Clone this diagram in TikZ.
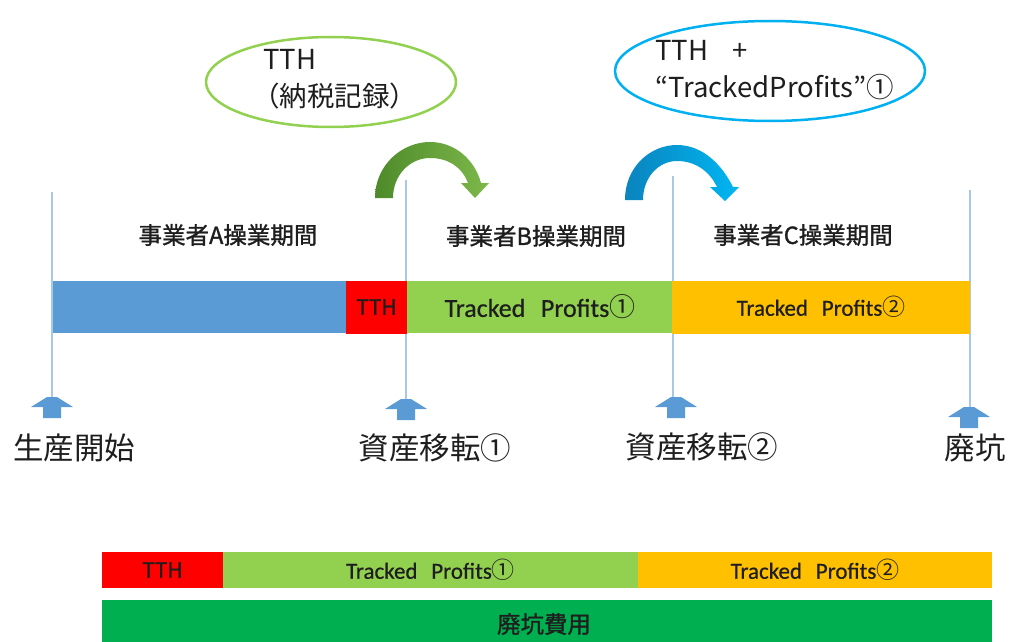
\documentclass[tikz,border=0pt]{standalone}
\usepackage{fontspec}
\setmainfont{Noto Sans CJK JP}
\newfontfamily\cjk{Noto Sans CJK JP}
\newfontfamily\cjkb[FakeBold=1.2]{Noto Sans CJK JP}
\newfontfamily\calfont[FakeBold=0.6]{Carlito}
\usetikzlibrary{shapes.geometric}
\definecolor{barblue}{HTML}{5B9BD5}
\definecolor{barred}{HTML}{FF0000}
\definecolor{bargreen}{HTML}{92D050}
\definecolor{barorange}{HTML}{FFC000}
\definecolor{bardkgreen}{HTML}{00B050}
\definecolor{ellgreen}{HTML}{92D050}
\definecolor{ellblue}{HTML}{00B0F0}
\definecolor{lineblue}{HTML}{A9C8E8}
\definecolor{arrowblue}{HTML}{5B9BD5}
\definecolor{txt}{HTML}{1E1E1E}
\definecolor{gA}{HTML}{4E8A2A}
\definecolor{gB}{HTML}{7DB84A}
\definecolor{bA}{HTML}{0A84BE}
\definecolor{bB}{HTML}{00B6F2}
\begin{document}
\begin{tikzpicture}[x=1pt,y=-1pt,
  bar/.style={draw=none, inner sep=0pt, outer sep=0pt, text=txt},
  vline/.style={draw=lineblue, line width=1.6pt},
  lbl/.style={text=txt, inner sep=0pt, font=\fontsize{30.5}{33}\selectfont},
  period/.style={text=txt, inner sep=0pt, font=\cjkb\fontsize{23.5}{26}\selectfont},
  ellt/.style={text=txt, align=left, inner sep=0pt, font=\fontsize{27.5}{37}\selectfont},
  barbig/.style={font=\calfont\fontsize{26}{28}\selectfont},
  barsmall/.style={font=\calfont\fontsize{23}{26}\selectfont},
  tthfont/.style={font=\cjkb\fontsize{21}{24}\selectfont},
  uparr/.pic={\fill[arrowblue] (-5,0) -- (5,0) -- (21,10) -- (9,10) -- (9,21) -- (-9,21) -- (-9,10) -- (-21,10) -- cycle;}
]
\useasboundingbox (0,0) rectangle (1009,642);

% ellipses
\node[draw=ellgreen, line width=2.5pt, ellipse, minimum width=250pt, minimum height=90pt] (e1) at (331,82) {};
\node[ellt, anchor=west] (e1t) at (263,79) {TTH\\\hspace*{-0.4em}（納税記録）};
\node[draw=ellblue, line width=2.5pt, ellipse, minimum width=310pt, minimum height=100pt] (e2) at (770,71) {};
\node[ellt, anchor=west] (e2t) at (655,70) {TTH\hspace{0.9em}+\\“TrackedProfits”①};

% curved arrows
\shade[left color=gA, right color=gB] (375,198) .. controls (375,165) and (402,142) .. (430,142) .. controls (455,142) and (475,160) .. (481,183) -- (489,183) -- (475,198) -- (461,183) -- (468,183) .. controls (462,167) and (448,158) .. (430,158) .. controls (410,158) and (393,175) .. (393,198) -- cycle;
\shade[left color=bA, right color=bB] (625,200) .. controls (625,167) and (650,145) .. (677,145) .. controls (703,145) and (722,165) .. (733,187) -- (739,187) -- (725,201) -- (710,187) -- (717,187) .. controls (710,172) and (696,161) .. (677,161) .. controls (658,161) and (643,178) .. (643,200) -- cycle;

% vertical lines
\coordinate (l1t) at (52,192);  \coordinate (l1b) at (52,398);
\coordinate (l2t) at (406,180); \coordinate (l2b) at (406,400);
\coordinate (l3t) at (673,176); \coordinate (l3b) at (673,398);
\coordinate (l4t) at (970,190); \coordinate (l4b) at (970,408);
\draw[vline] (l1t) -- (l1b);
\draw[vline] (l2t) -- (l2b);
\draw[vline] (l3t) -- (l3b);
\draw[vline] (l4t) -- (l4b);

% period labels
\node[period] (pa) at (228,235) {事業者A操業期間};
\node[period] (pb) at (536,236) {事業者B操業期間};
\node[period] (pc) at (803,235) {事業者C操業期間};

% main bar
\node[bar, fill=barblue, anchor=north west, minimum width=293pt, minimum height=52pt] (mblue) at (53,281) {};
\node[bar, fill=barred, anchor=north west, minimum width=61pt, minimum height=53pt, tthfont] (mred) at (346,280.5) {TTH};
\node[bar, fill=bargreen, anchor=north west, minimum width=266pt, minimum height=52pt, barbig] (mgreen) at (407,281) {Tracked\hspace{0.6em}Profits{\cjk ①}};
\node[bar, fill=barorange, anchor=north west, minimum width=298pt, minimum height=53pt, barsmall] (morange) at (672,280.5) {Tracked\hspace{0.6em}Profits{\cjk ②}};

% up arrows
\pic at (52,397) {uparr};
\pic at (406,399) {uparr};
\pic at (676,397) {uparr};
\pic at (969,407) {uparr};

% event labels
\node[lbl] (s1) at (74,448) {生産開始};
\node[lbl] (s2) at (435,448) {資産移転①};
\node[lbl] (s3) at (702,447) {資産移転②};
\node[lbl] (s4) at (975,448) {廃坑};

% bottom bars
\node[bar, fill=barred, anchor=north west, minimum width=121pt, minimum height=36pt, tthfont] (bred) at (102,552) {TTH};
\node[bar, fill=bargreen, anchor=north west, minimum width=415pt, minimum height=36pt, barsmall] (bgreen) at (223,552) {Tracked\hspace{0.6em}Profits{\cjk ①}};
\node[bar, fill=barorange, anchor=north west, minimum width=354pt, minimum height=36pt, barsmall] (borange) at (638,552) {Tracked\hspace{0.6em}Profits{\cjk ②}};
\node[bar, fill=bardkgreen, anchor=north west, minimum width=890pt, minimum height=42pt] (bcost) at (102,600) {};
\node[text=txt, inner sep=0pt, font=\cjkb\fontsize{23.5}{26}\selectfont] (bcostt) at (544,624) {廃坑費用};
\end{tikzpicture}
\end{document}
